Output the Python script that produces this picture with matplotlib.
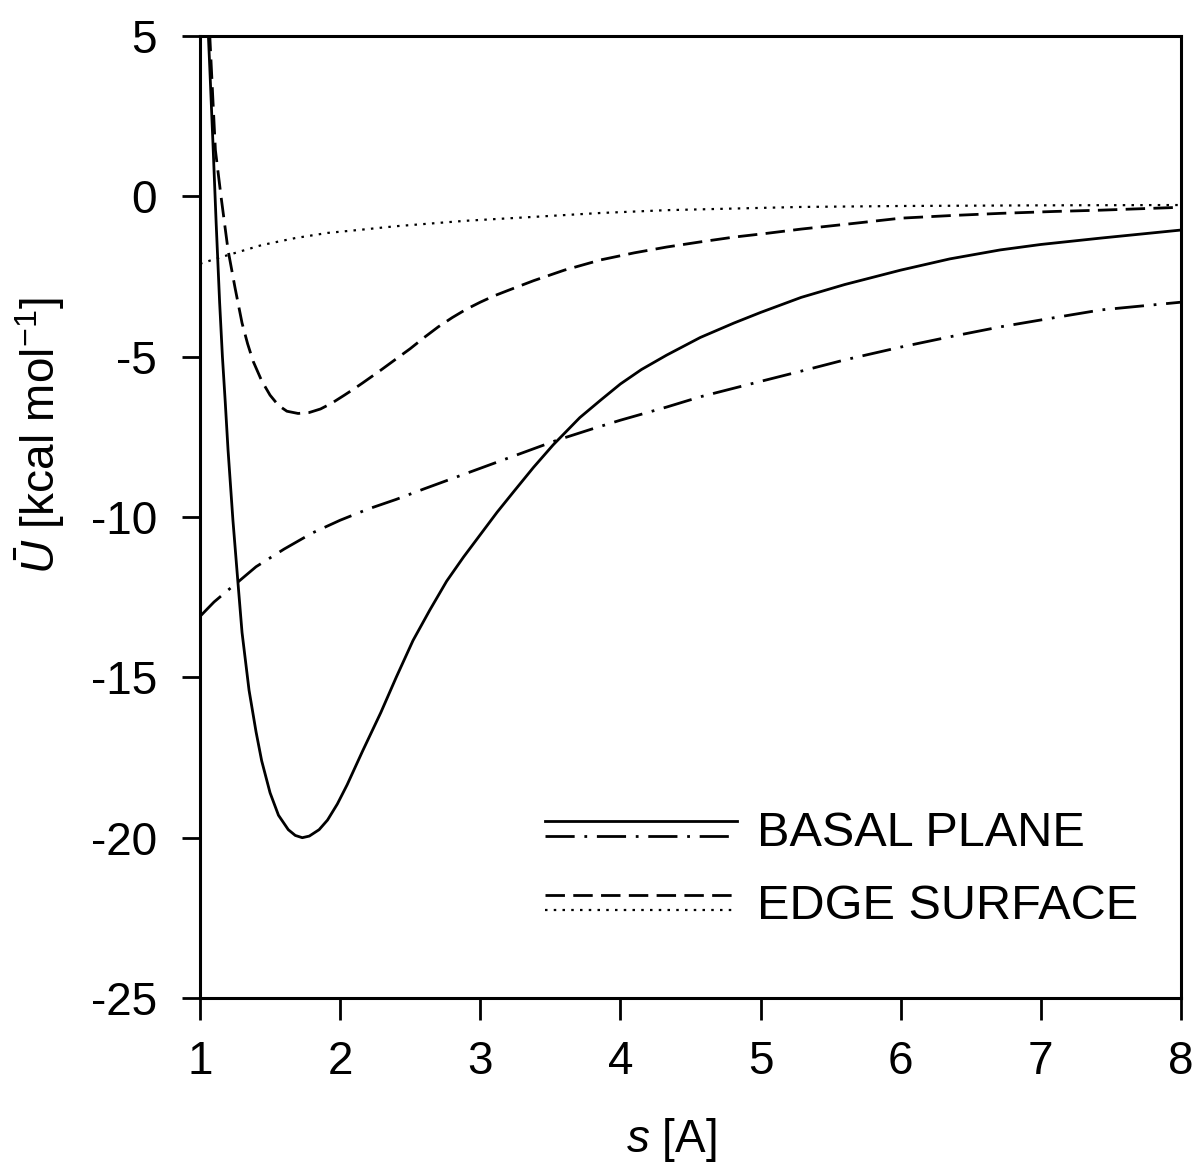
import matplotlib
matplotlib.use("Agg")
import matplotlib.pyplot as plt
from matplotlib.legend_handler import HandlerBase
from matplotlib.lines import Line2D

plt.rcParams['font.family'] = ['Liberation Sans', 'DejaVu Sans']
plt.rcParams['mathtext.fontset'] = 'custom'
plt.rcParams['mathtext.rm'] = 'Liberation Sans'
plt.rcParams['mathtext.it'] = 'Liberation Sans:italic'
plt.rcParams['lines.scale_dashes'] = False
plt.rcParams['axes.unicode_minus'] = False

# basal plane, solid curve
basal_a_s = [1.055, 1.07, 1.093, 1.115, 1.14, 1.16, 1.18, 1.20, 1.235, 1.27, 1.30,
             1.35, 1.40, 1.44, 1.50, 1.56, 1.63, 1.68, 1.73, 1.78, 1.85, 1.91,
             1.98, 2.05, 2.16, 2.29, 2.40, 2.52, 2.64, 2.76, 2.88, 3.00, 3.12,
             3.24, 3.38, 3.52, 3.71, 3.86, 4.00, 4.15, 4.33, 4.57, 4.81, 5.00,
             5.29, 5.60, 6.00, 6.35, 6.71, 7.00, 7.43, 8.00]
basal_a_u = [5.5, 4.0, 1.6, -0.8, -3.3, -5.0, -6.4, -7.9, -10.1, -12.0, -13.6,
             -15.4, -16.7, -17.6, -18.6, -19.3, -19.75, -19.93, -20.0, -19.95, -19.75, -19.45,
             -18.95, -18.35, -17.3, -16.1, -15.0, -13.85, -12.9, -12.0, -11.25, -10.55, -9.85,
             -9.2, -8.45, -7.75, -6.9, -6.35, -5.85, -5.4, -4.95, -4.4, -3.95, -3.62,
             -3.15, -2.75, -2.3, -1.95, -1.67, -1.5, -1.3, -1.05]

# basal plane, dash-dot curve
basal_b_s = [1.00, 1.10, 1.20, 1.27, 1.40, 1.60, 1.80, 2.00, 2.20, 2.40, 2.60,
             2.80, 3.00, 3.30, 3.55, 3.80, 4.00, 4.33, 4.57, 5.00, 5.29, 5.60,
             6.00, 6.35, 6.71, 7.10, 7.43, 8.00]
basal_b_u = [-13.1, -12.65, -12.28, -12.03, -11.55, -11.0, -10.5, -10.1, -9.75, -9.45, -9.12,
             -8.8, -8.48, -8.0, -7.6, -7.25, -6.98, -6.57, -6.25, -5.77, -5.45, -5.1,
             -4.7, -4.38, -4.07, -3.78, -3.54, -3.3]

# edge surface, dashed curve
edge_a_s = [1.06, 1.07, 1.09, 1.11, 1.15, 1.20, 1.25, 1.30, 1.34, 1.38, 1.44,
            1.50, 1.56, 1.62, 1.70, 1.78, 1.86, 1.94, 2.03, 2.10, 2.16, 2.29,
            2.39, 2.50, 2.60, 2.70, 2.80, 2.90, 3.00, 3.10, 3.20, 3.38, 3.60,
            3.86, 4.10, 4.33, 4.57, 4.81, 5.05, 5.29, 5.65, 6.00, 6.35, 6.71,
            7.10, 7.43, 8.00]
edge_a_u = [6.0, 5.0, 3.2, 1.44, 0.0, -1.67, -2.85, -3.95, -4.6, -5.15, -5.75,
            -6.2, -6.52, -6.7, -6.77, -6.74, -6.63, -6.45, -6.2, -6.0, -5.82, -5.42,
            -5.1, -4.75, -4.4, -4.07, -3.78, -3.52, -3.3, -3.1, -2.93, -2.63, -2.3,
            -1.98, -1.76, -1.58, -1.42, -1.27, -1.15, -1.02, -0.85, -0.68, -0.6, -0.53,
            -0.47, -0.43, -0.34]

# edge surface, dotted curve
edge_b_s = [1.00, 1.20, 1.44, 1.68, 1.91, 2.15, 2.40, 2.90, 3.38, 3.85, 4.33,
            5.00, 5.29, 6.00, 7.00, 8.00]
edge_b_u = [-2.1, -1.83, -1.52, -1.3, -1.14, -1.04, -0.93, -0.76, -0.64, -0.52, -0.43,
            -0.36, -0.33, -0.3, -0.28, -0.27]

legend_labels = ['BASAL PLANE', 'EDGE SURFACE']


class HandlerStack(HandlerBase):
    # two line samples stacked on top of each other
    def create_artists(self, legend, orig_handle, xdescent, ydescent,
                       width, height, fontsize, trans):
        artists = []
        mid = height / 2 - ydescent
        for i, h in enumerate(orig_handle):
            y = mid + 5.5 - 11 * i
            ln = Line2D([-xdescent, width - xdescent], [y, y])
            ln.update_from(h)
            ln.set_transform(trans)
            artists.append(ln)
        return artists


def main():
    fig = plt.figure(figsize=(11.99, 11.74), dpi=100)
    ax = fig.add_axes([0.1668, 0.1499, 0.8182, 0.8194])

    lw = 2.0
    l1, = ax.plot(basal_a_s, basal_a_u, color='black', linewidth=lw, linestyle='-')
    l2, = ax.plot(basal_b_s, basal_b_u, color='black', linewidth=lw,
                  linestyle=(0, (21, 7, 2, 7)))
    l3, = ax.plot(edge_a_s, edge_a_u, color='black', linewidth=lw,
                  linestyle=(0, (14, 6)))
    l4, = ax.plot(edge_b_s, edge_b_u, color='black', linewidth=1.6,
                  linestyle=(0, (1.8, 4.5)))

    ax.set_xlim(1, 8)
    ax.set_ylim(-25, 5)
    ax.set_xticks(range(1, 9))
    ax.set_yticks([5, 0, -5, -10, -15, -20, -25])

    for sp in ax.spines.values():
        sp.set_linewidth(2.2)
    ax.tick_params(axis='both', which='both', direction='out', width=2.0,
                   labelsize=33, top=False, right=False)
    ax.tick_params(axis='x', length=16, pad=14)
    ax.tick_params(axis='y', length=13, pad=18)

    ax.text(0.48, -0.148, r'$s$ [A]', transform=ax.transAxes, fontsize=33,
            ha='center', va='center')
    ax.text(-0.163, 0.585, r'$\bar{U}$ [kcal mol$^{\mathregular{-1}}$]',
            transform=ax.transAxes, fontsize=33, rotation=90,
            ha='center', va='center')

    ax.legend([(l1, l2), (l3, l4)], legend_labels,
              handler_map={tuple: HandlerStack()},
              loc='center left', bbox_to_anchor=(0.352, 0.133),
              frameon=False, fontsize=35, handlelength=3.95,
              handletextpad=0.41, labelspacing=0.59,
              borderpad=0, borderaxespad=0)

    plt.savefig("out.png", dpi=100)


if __name__ == "__main__":
    main()
